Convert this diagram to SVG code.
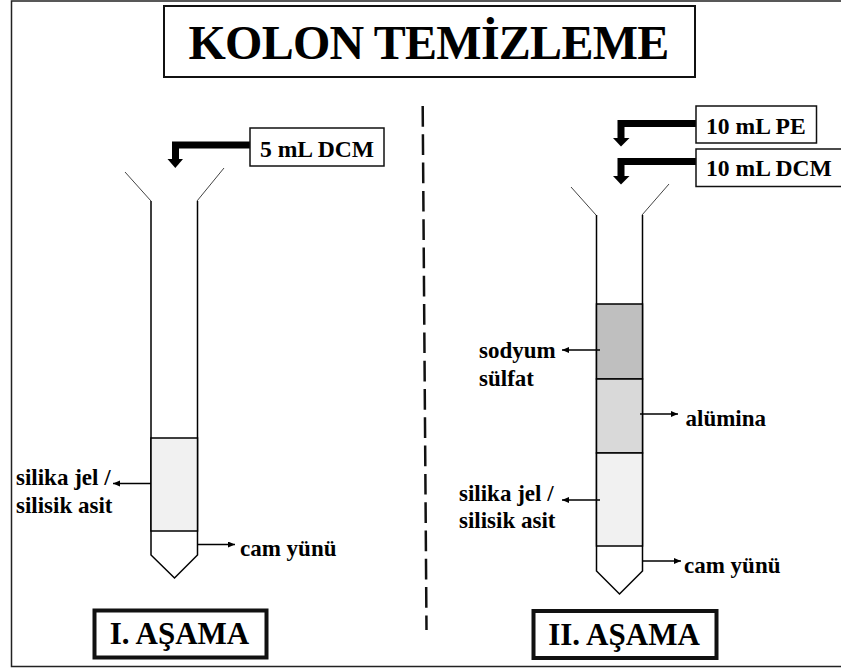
<svg xmlns="http://www.w3.org/2000/svg" width="841" height="669" viewBox="0 0 841 669">
<style>
text{font-family:"Liberation Serif","Times New Roman",serif;font-weight:bold;fill:#000}
.l{font-size:23px}
.b{font-size:23.6px}
.g{fill:none;stroke:#000;stroke-width:1.5}
.f{fill:none;stroke:#444;stroke-width:1}
.a{fill:none;stroke:#000;stroke-width:1.5;marker-end:url(#h)}
.k{fill:none;stroke:#000;stroke-width:7}
.s{font-size:31px}
</style>
<defs>
<marker id="h" markerUnits="userSpaceOnUse" markerWidth="8" markerHeight="7" refX="7" refY="3" orient="auto"><path d="M0 0L7 3L0 6Z" fill="#000"/></marker>
</defs>
<rect width="841" height="669" fill="#fff"/>
<rect id="frame" x="11.500" y="1" width="835" height="665.500" fill="none" stroke="#222" stroke-width="1.500"/>
<g id="title"><rect x="164" y="6" width="531" height="71" fill="#fff" stroke="#111" stroke-width="2"/><text x="428.500" y="59" text-anchor="middle" font-size="48" letter-spacing="-0.75">KOLON TEMİZLEME</text></g>
<line id="divider" x1="422.700" y1="106" x2="426.500" y2="630" stroke="#111" stroke-width="2.500" stroke-dasharray="20.700 7.600"/>
<g id="column1">
<path class="f" d="M125 172L151 201M197 201L224 168"/>
<path class="g" d="M151 201V555L174.500 578L197.500 555V201"/>
<rect x="151" y="438" width="46.500" height="93" fill="#f1f1f1" stroke="#000" stroke-width="1.500"/>
</g>
<g id="column2">
<path class="f" d="M571 187L596 215M642 215L669 184"/>
<path class="g" d="M596.500 215V571L619.500 594L642.500 571V215"/>
<rect x="596.500" y="304" width="46" height="75" fill="#bfbfbf" stroke="#000" stroke-width="1.500"/>
<rect x="596.500" y="379" width="46" height="74" fill="#d9d9d9" stroke="#000" stroke-width="1.500"/>
<rect x="596.500" y="453" width="46" height="93" fill="#f1f1f1" stroke="#000" stroke-width="1.500"/>
</g>
<g id="connectors">
<path class="k" d="M250 145H175.500V160"/><path d="M167.500 159H183L175.300 168Z" fill="#000"/>
<path class="k" d="M696 123.500H621V139"/><path d="M613 138H629.500L621 146.500Z" fill="#000"/>
<path class="k" d="M696 161.500H621V177"/><path d="M613 176H629.500L621 184.500Z" fill="#000"/>
<path class="a" d="M151 483.500H113"/>
<path class="a" d="M197.500 544.500H235"/>
<path class="a" d="M600 350H562"/>
<path class="a" d="M640 414H678"/>
<path class="a" d="M600 500H562"/>
<path class="a" d="M643 561H681"/>
</g>
<g id="box-5ml"><rect x="250" y="128" width="134" height="38" fill="#fff" stroke="#111" stroke-width="1.500"/><text class="b" x="260" y="156.500">5 mL DCM</text></g>
<g id="box-10pe"><rect x="696" y="106" width="120.500" height="37" fill="#fff" stroke="#111" stroke-width="1.500"/><text class="b" x="706" y="133.500">10 mL PE</text></g>
<g id="box-10dcm"><rect x="696" y="149" width="150" height="37.500" fill="#fff" stroke="#111" stroke-width="1.500"/><text class="b" x="706" y="176">10 mL DCM</text></g>
<g id="labels">
<text class="l" x="16" y="485">silika jel /</text><text class="l" x="16" y="512.500">silisik asit</text>
<text class="l" x="240" y="556">cam yünü</text>
<text class="l" x="479" y="358">sodyum</text><text class="l" x="479" y="386">sülfat</text>
<text class="l" x="685.500" y="425.500">alümina</text>
<text class="l" x="459" y="501">silika jel /</text><text class="l" x="459" y="528">silisik asit</text>
<text class="l" x="684" y="572.500">cam yünü</text>
</g>
<g id="stage1"><rect x="94.500" y="610.500" width="172" height="47" fill="#fff" stroke="#111" stroke-width="4"/><text class="s" x="179.500" y="644" text-anchor="middle">I. AŞAMA</text></g>
<g id="stage2"><rect x="533.500" y="611" width="183" height="47" fill="#fff" stroke="#111" stroke-width="4"/><text class="s" x="624" y="645" text-anchor="middle">II. AŞAMA</text></g>
</svg>
